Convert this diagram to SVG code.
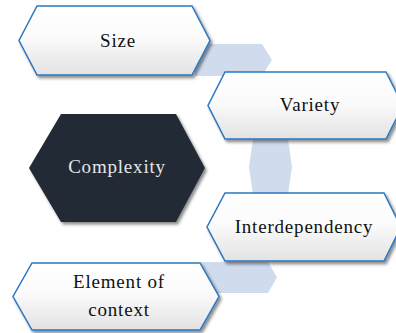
<svg xmlns="http://www.w3.org/2000/svg" width="396" height="333" viewBox="0 0 396 333">
<defs>
<linearGradient id="g" x1="0" y1="0" x2="0" y2="1">
<stop offset="0" stop-color="#ffffff"/>
<stop offset="0.45" stop-color="#fbfbfb"/>
<stop offset="1" stop-color="#e2e2e2"/>
</linearGradient>
<filter id="sh" x="-10%" y="-10%" width="130%" height="140%">
<feDropShadow dx="2" dy="2.5" stdDeviation="1.5" flood-color="#000" flood-opacity="0.45"/>
</filter>
<style>
.box{fill:url(#g);stroke:#2a78c0;stroke-width:1.5;stroke-linejoin:miter;filter:url(#sh)}
.dark{fill:#222a35;filter:url(#sh)}
.band{fill:#d0dcee}
text{font-family:"Liberation Serif","DejaVu Serif",serif;font-size:19px;letter-spacing:0.8px;text-anchor:middle;fill:#111}
.light{fill:#e6e6e6}
</style>
</defs>
<rect width="396" height="333" fill="#ffffff"/>
<g id="connectors">
<polygon class="band" points="195,44 262,44 272,60 262,76 195,76"/>
<polygon class="band" points="253,100 288,100 288,139 292,167 288,195 288,235 253,235 253,195 249,167 253,139"/>
<polygon class="band" points="200,262 268,262 277,277.5 268,293 200,293"/>
</g>
<g id="size">
<polygon class="box" points="37,6 192,6 210,40.5 192,75 37,75 19,40.5"/>
<text x="118" y="47">Size</text>
</g>
<g id="variety">
<polygon class="box" points="225,72 386,72 403,105.5 386,139 225,139 208,105.5"/>
<text x="310" y="111">Variety</text>
</g>
<g id="complexity">
<polygon class="dark" points="61,114 176,114 205,168 176,222 61,222 29,168"/>
<text class="light" x="117" y="173">Complexity</text>
</g>
<g id="interdependency">
<polygon class="box" points="225,193 384,193 401,227 384,261 225,261 207,227"/>
<text x="304" y="233">Interdependency</text>
</g>
<g id="element">
<polygon class="box" points="32,263 200,263 219,296.5 200,330 32,330 13,296.5"/>
<text x="119" y="288">Element of</text>
<text x="119" y="316">context</text>
</g>
</svg>
